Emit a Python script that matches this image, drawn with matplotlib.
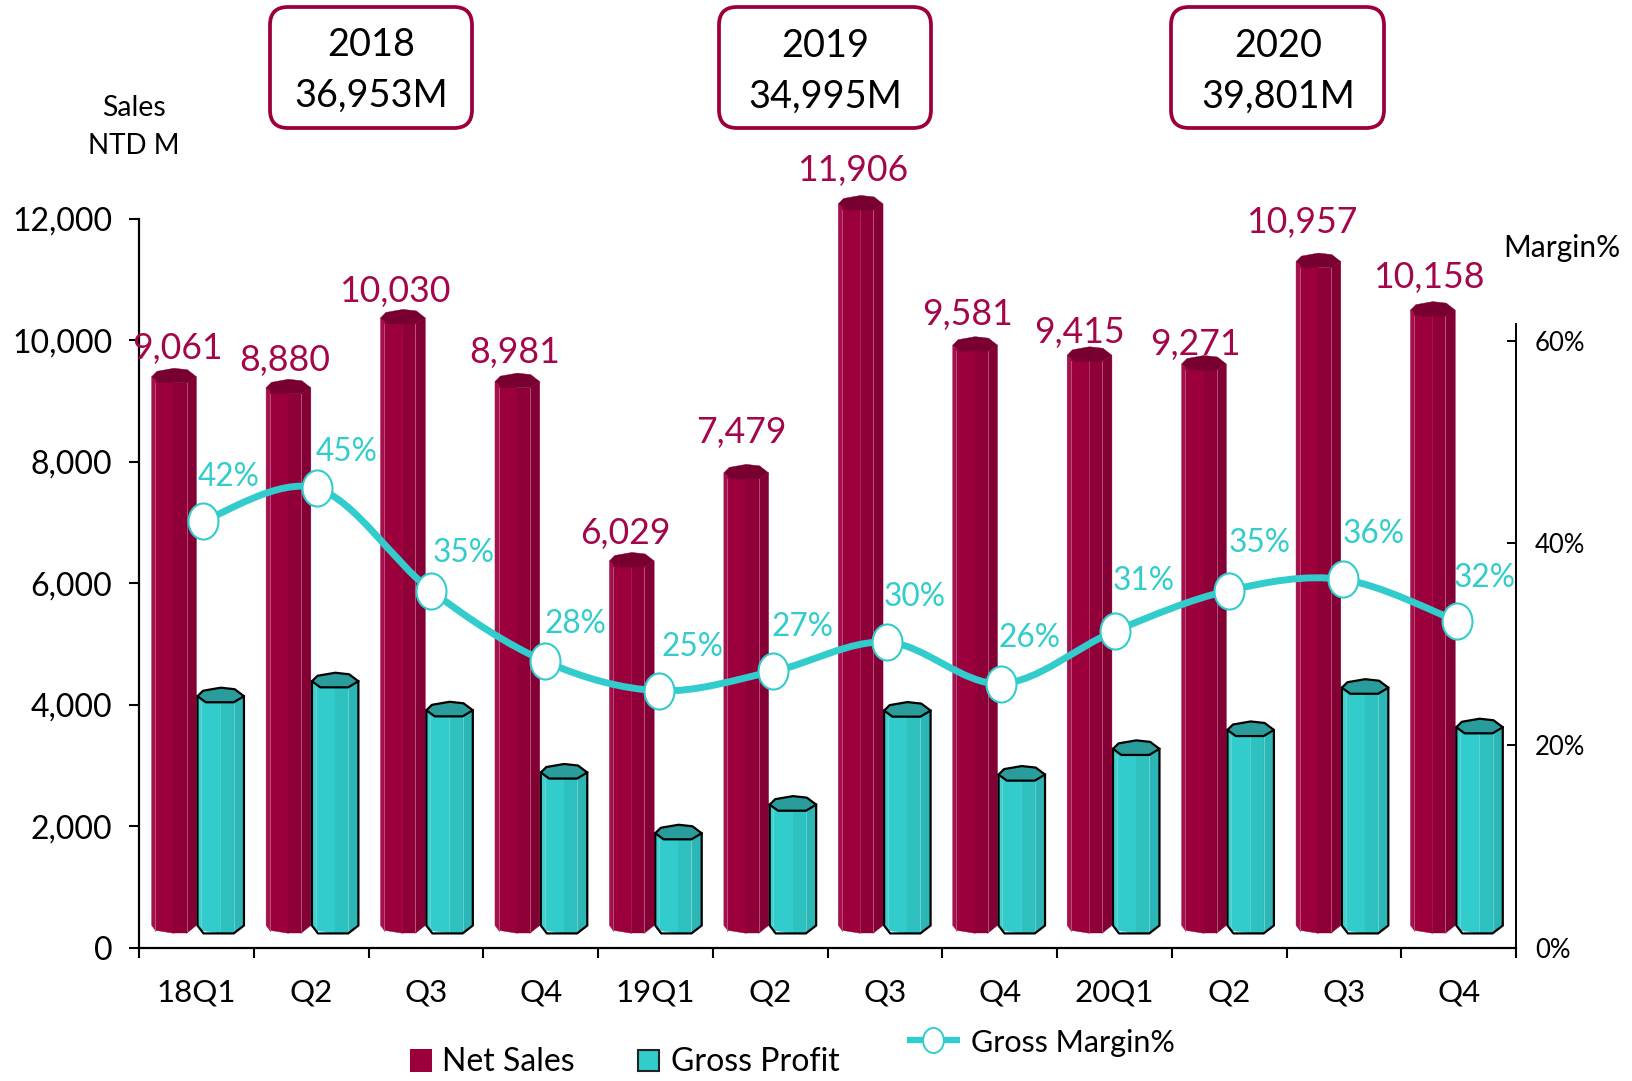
import matplotlib
matplotlib.use("Agg")
import matplotlib.pyplot as plt
import numpy as np
from matplotlib.patches import Polygon, PathPatch, FancyBboxPatch, Rectangle
from matplotlib.path import Path
from matplotlib.transforms import Affine2D

plt.rcParams['font.family'] = ['Lato', 'DejaVu Sans']

categories = ["18Q1", "Q2", "Q3", "Q4", "19Q1", "Q2", "Q3", "Q4", "20Q1", "Q2", "Q3", "Q4"]
net_sales = [9061, 8880, 10030, 8981, 6029, 7479, 11906, 9581, 9415, 9271, 10957, 10158]
gross_profit = [3805, 4051, 3573, 2549, 1549, 2020, 3568, 2515, 2938, 3249, 3945, 3294]
gross_margin = [42.2, 45.4, 35.3, 28.3, 25.4, 27.3, 30.2, 26.1, 31.3, 35.3, 36.4, 32.3]
margin_labels = ["42%", "45%", "35%", "28%", "25%", "27%", "30%", "26%", "31%", "35%", "36%", "32%"]
year_titles = ["2018", "2019", "2020"]
year_totals = ["36,953M", "34,995M", "39,801M"]

W, H = 1633, 1081
L, R, T, B = 139.3, 1516.0, 218.7, 947.7
CRIMSON = "#9C003C"
TEAL = "#33CCCC"
LABEL_RED = "#A3064A"

# label placement (pixels relative to the mark)
net_dx = [3, -4, -8, -3, -6, -5, -8, -7, -10, -8, -16, -4]
net_dy = [33, 32, 31, 34, 32.5, 45, 38, 35, 28, 25, 43, 37]
mar_dx = [24, 28, 31, 29, 32, 28, 27, 27, 28, 30, 30, 27]
mar_dy = [42, 35, 36, 36, 42, 43, 43, 44, 48, 46, 44, 41]

fig = plt.figure(figsize=(W / 100, H / 100), dpi=100, facecolor="white")
ax = fig.add_axes([L / W, 1 - B / H, (R - L) / W, (B - T) / H])
ax.set_xlim(0, 12)
ax.set_ylim(0, 12000)
ax2 = ax.twinx()
ax2.set_ylim(0, 12000 * 0.06076 / 10.12)

pos = 6 + (np.arange(12) - 5.5) * 0.9975


def prism(x, w, floor, value, shades, cap, outline, facet_edge):
    xs = lambda f: x - w / 2 + f * w
    top = floor + value
    chamfer = 130
    edges = [0, 0.08, 0.5, 0.78, 1.0]
    for i, c in enumerate(shades):
        f0, f1 = edges[i], edges[i + 1]
        b0 = floor + chamfer * max(0, 1 - f0 / 0.13, (f0 - 0.78) / 0.22)
        b1 = floor + chamfer * max(0, 1 - f1 / 0.13, (f1 - 0.78) / 0.22)
        t0 = top + 100 * max(1 - f0 / 0.18, (f0 - 0.78) / 0.22, 0)
        t1 = top + 100 * max(1 - f1 / 0.18, (f1 - 0.78) / 0.22, 0)
        ax.add_patch(Polygon([(xs(f0), b0), (xs(f1), b1), (xs(f1), t1), (xs(f0), t0)],
                             closed=True, fc=c, ec=c, lw=0.3, clip_on=False, zorder=3))
    for f in (0.08, 0.78):
        ax.plot([xs(f), xs(f)], [floor + 30, top], color=facet_edge, lw=0.6, clip_on=False, zorder=3.1)
    capv = [(0, 100), (0.12, 190), (0.5, 240), (0.8, 215), (1, 100), (0.78, 0), (0.18, 0)]
    ax.add_patch(Polygon([(xs(f), top + d) for f, d in capv], closed=True, fc=cap,
                         ec=outline or cap, lw=1.6 if outline else 0.3, clip_on=False,
                         zorder=3.3, joinstyle="round"))
    if outline:
        sil = [(0, top + 100), (0, floor + chamfer), (0.13, floor), (0.78, floor),
               (1, floor + chamfer), (1, top + 100)]
        ax.plot([xs(a) for a, _ in sil], [b for _, b in sil], color=outline, lw=1.6,
                clip_on=False, zorder=3.2, solid_joinstyle="round")


for i in range(12):
    prism(pos[i] - 0.211, 0.39, 237, net_sales[i],
          ["#A4104C", "#9C003C", "#8F0038", "#830034"], "#780030", None, "#C25A85")
for i in range(12):
    prism(pos[i] + 0.196, 0.405, 235, gross_profit[i],
          ["#3FCFCF", "#33CCCC", "#2FC0C0", "#2CB6B6"], "#2A9C9C", "black", "#6FD6D6")

# smooth margin line, built from the values
mx = 6.02 + (np.arange(12) - 5.5) * 0.9934
my = np.array(gross_margin)
verts, codes = [(mx[0], my[0])], [Path.MOVETO]
for i in range(11):
    p0 = np.array([mx[max(i - 1, 0)], my[max(i - 1, 0)]])
    p1 = np.array([mx[i], my[i]])
    p2 = np.array([mx[i + 1], my[i + 1]])
    p3 = np.array([mx[min(i + 2, 11)], my[min(i + 2, 11)]])
    verts += [tuple(p1 + (p2 - p0) / 6), tuple(p2 - (p3 - p1) / 6), tuple(p2)]
    codes += [Path.CURVE4] * 3
ax2.add_patch(PathPatch(Path(verts, codes), fc="none", ec=TEAL, lw=5, clip_on=False, zorder=4))
ell = Path.unit_circle().transformed(Affine2D().scale(0.83, 1))
ax2.plot(mx, my, ls="none", marker=ell, ms=26, mfc="white", mec=TEAL, mew=1.5,
         clip_on=False, zorder=5)

# data labels
for i in range(12):
    ax.annotate(f"{net_sales[i]:,}", (pos[i] - 0.211, 237 + net_sales[i]),
                xytext=(net_dx[i] * 1.0415, net_dy[i] * 1.0415), textcoords="offset pixels",
                ha="center", va="center", fontsize=25.7, color=LABEL_RED, zorder=6,
                annotation_clip=False)
    ax2.annotate(margin_labels[i], (mx[i], my[i]),
                 xytext=(mar_dx[i] * 1.0415, mar_dy[i] * 1.0415), textcoords="offset pixels",
                 ha="center", va="center", fontsize=22.8, color=TEAL, zorder=6,
                 annotation_clip=False)

# axes
for s in ("top", "right"):
    ax.spines[s].set_visible(False)
for s in ("top", "left", "bottom"):
    ax2.spines[s].set_visible(False)
ax.spines["left"].set_linewidth(1.6)
ax.spines["bottom"].set_linewidth(1.6)
ax2.spines["right"].set_linewidth(1.4)
ax2.spines["right"].set_bounds(0, 61.6)

yt = [0, 2000, 4000, 6000, 8000, 10000, 12000]
ax.set_yticks(yt)
ax.set_yticklabels([f"{v:,}" for v in yt])
ax.tick_params(axis="y", length=7.5, width=1.5, pad=12, labelsize=23)
ax.set_xticks(range(13))
ax.set_xticklabels([])
ax.tick_params(axis="x", which="major", length=7.5, width=1.5)
ax.set_xticks(np.arange(12) + 0.5, minor=True)
ax.set_xticklabels(categories, minor=True)
ax.tick_params(axis="x", which="minor", length=0, pad=22, labelsize=22.5)
ax2.set_yticks([0, 20, 40, 60])
ax2.set_yticklabels(["0%", "20%", "40%", "60%"])
ax2.tick_params(axis="y", direction="in", length=6.5, width=1.4, pad=13.5, labelsize=18.5)

# annotation overlay in pixel coordinates
ov = fig.add_axes([0, 0, 1, 1], facecolor="none")
ov.set_xlim(0, W)
ov.set_ylim(H, 0)
ov.axis("off")

box_x = [(270, 472), (719, 931), (1171, 1384)]
box_t = [(371, 45, 96), (825, 46, 97), (1278, 46, 97)]
for (x0, x1), (cx, y1, y2), a, b in zip(box_x, box_t, year_titles, year_totals):
    ov.add_patch(FancyBboxPatch((x0 + 18, 7 + 18), x1 - x0 - 36, 121 - 36,
                                boxstyle="round,pad=18,rounding_size=18", fc="white",
                                ec=CRIMSON, lw=2.7))
    ov.text(cx, y1, a, ha="center", va="center", fontsize=27.3, color="black")
    ov.text(cx, y2, b, ha="center", va="center", fontsize=27.3, color="black")

ov.text(134, 108, "Sales", ha="center", va="center", fontsize=20.5)
ov.text(134, 146, "NTD M", ha="center", va="center", fontsize=20)
ov.text(1562, 248, "Margin%", ha="center", va="center", fontsize=21.5)

ov.add_patch(Rectangle((410, 1049), 22, 23, fc=CRIMSON, ec="none"))
ov.text(442, 1062, "Net Sales", ha="left", va="center", fontsize=23)
ov.add_patch(Rectangle((638, 1050), 21, 21, fc=TEAL, ec="#222222", lw=1.5))
ov.text(671, 1062, "Gross Profit", ha="left", va="center", fontsize=23)
ov.plot([907, 960], [1040, 1040], color=TEAL, lw=4.6, solid_capstyle="butt")
ov.plot([933], [1040], ls="none", marker=ell, ms=18, mfc="white", mec=TEAL, mew=1.4)
ov.text(971, 1043, "Gross Margin%", ha="left", va="center", fontsize=22)

fig.savefig("out.png", dpi=100, facecolor="white")
